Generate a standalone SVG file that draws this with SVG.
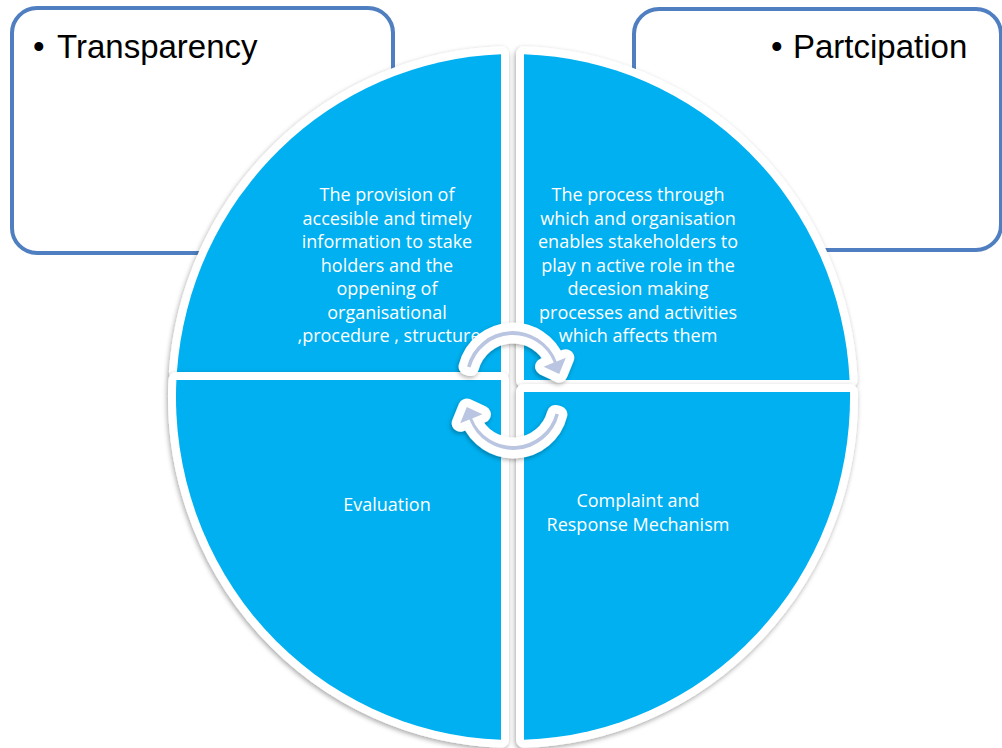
<svg xmlns="http://www.w3.org/2000/svg" width="1002" height="748" viewBox="0 0 1002 748">
<defs>
<filter id="sh" x="-10%" y="-10%" width="120%" height="120%">
<feDropShadow dx="-1" dy="2" stdDeviation="2.5" flood-color="#000" flood-opacity="0.35"/>
</filter>
<filter id="sh2" x="-30%" y="-30%" width="160%" height="160%">
<feDropShadow dx="-1" dy="2" stdDeviation="2" flood-color="#000" flood-opacity="0.3"/>
</filter>
</defs>
<style>
.box{fill:#fff;stroke:#4F7FC0;stroke-width:4}
.head{font-family:"Liberation Sans",Arial,sans-serif;font-size:33px;fill:#000}
.wedge{fill:#00B0F0;stroke:#fff;stroke-width:16;stroke-linejoin:round;paint-order:stroke}
.lbl{font-family:"Open Sans","Liberation Sans",sans-serif;font-size:18px;fill:#fff;text-anchor:middle}
.arr{fill:#BAC5E2;stroke:#fff;stroke-width:17;stroke-linejoin:round;paint-order:stroke}
</style>
<rect width="1002" height="748" fill="#fff"/>
<g id="transparency">
<rect class="box" x="12" y="8" width="381" height="245" rx="25"/>
<text class="head" x="33" y="58">•<tspan x="57">Transparency</tspan></text>
</g>
<g id="participation">
<rect class="box" x="634" y="9" width="367" height="241" rx="25"/>
<text class="head" x="771" y="58">•<tspan x="793">Partcipation</tspan></text>
</g>
<g id="wedge-tl">
<path class="wedge" filter="url(#sh)" d="M501,372 L501,54.2 A337,343 0 0 0 176.9,372 Z"/>
<text class="lbl"><tspan x="387" y="201">The provision of</tspan><tspan x="387" y="225">accesible and timely</tspan><tspan x="387" y="248">information to stake</tspan><tspan x="387" y="272">holders and the</tspan><tspan x="387" y="295">oppening of</tspan><tspan x="387" y="319">organisational</tspan><tspan x="389" y="342">,procedure , structure</tspan></text>
</g>
<g id="wedge-tr">
<path class="wedge" filter="url(#sh)" d="M524,380 L524,54.2 A337,343 0 0 1 849.6,380 Z"/>
<text class="lbl"><tspan x="638" y="201">The process through</tspan><tspan x="638" y="225">which and organisation</tspan><tspan x="638" y="248">enables stakeholders to</tspan><tspan x="638" y="272">play n active role in the</tspan><tspan x="638" y="295">decesion making</tspan><tspan x="638" y="319">processes and activities</tspan><tspan x="638" y="342">which affects them</tspan></text>
</g>
<g id="wedge-bl">
<path class="wedge" filter="url(#sh)" d="M501,380 L176.4,380 A337,343 0 0 0 501,739.8 Z"/>
<text class="lbl" x="387" y="511">Evaluation</text>
</g>
<g id="wedge-br">
<path class="wedge" filter="url(#sh)" d="M524,392 L850,392 A337,343 0 0 1 524,739.8 Z"/>
<text class="lbl"><tspan x="638" y="507">Complaint and</tspan><tspan x="638" y="531">Response Mechanism</tspan></text>
</g>
<g id="connectors" filter="url(#sh2)">
<path class="arr" d="M467.1,366.6 A47,47 0 0 1 556.6,361.4 L565.8,357.7 L559.2,374.0 L543.6,366.7 L553.8,362.5 A44,44 0 0 0 470.5,367.6 Z"/>
<path class="arr" transform="rotate(180 513 390.5)" d="M467.1,366.6 A47,47 0 0 1 556.6,361.4 L565.8,357.7 L559.2,374.0 L543.6,366.7 L553.8,362.5 A44,44 0 0 0 470.5,367.6 Z"/>
</g>
</svg>
